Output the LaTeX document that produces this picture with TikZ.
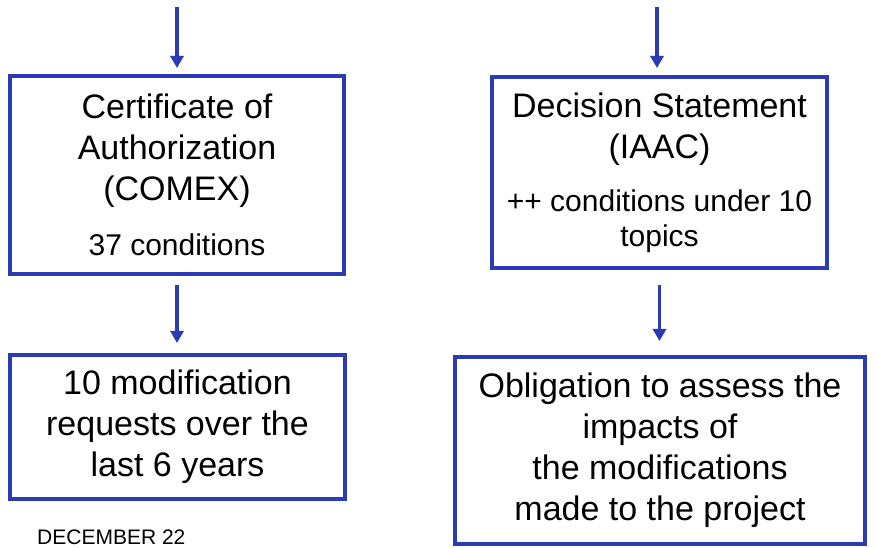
\documentclass[tikz,border=0pt]{standalone}
\usepackage{fontspec}
\setmainfont{Liberation Sans}
\usetikzlibrary{arrows.meta}
\definecolor{boxblue}{RGB}{42,59,181}

\begin{document}
\begin{tikzpicture}[x=1pt,y=1pt,
        box/.style={draw=boxblue,line width=4pt,align=center,inner sep=0pt,
            font=\fontsize{34}{41}\selectfont},
        link/.style={draw=boxblue,line width=3.5pt,-{Triangle[length=12pt,width=13pt]}}]
        \useasboundingbox (0,0) rectangle (877,548);
        % boxes
        \node[box,minimum width=334,minimum height=198] (cert) at (177,373)
            {Certificate of\\Authorization\\(COMEX)\\[14pt]\fontsize{30}{41}\selectfont 37 conditions};
        \node[box,minimum width=335,minimum height=191] (dec) at (659.5,375.5)
            {Decision Statement\\(IAAC)\\[12pt]\fontsize{30}{41}\selectfont ++ conditions under 10\\[-6pt]\fontsize{30}{41}\selectfont topics};
        \node[box,minimum width=335,minimum height=144] (req) at (177.5,121)
            {10 modification\\requests over the\\last 6 years};
        \node[box,minimum width=410,minimum height=187] (obl) at (660,97.5)
            {Obligation to assess the\\impacts of\\the modifications\\made to the project};
        % arrows
        \coordinate (inL) at (177,541);
        \coordinate (inR) at (657,541);
        \draw[link,shorten >=6pt] (inL) -- (inL |- cert.north);
        \draw[link,shorten >=7pt] (inR) -- (inR |- dec.north);
        \draw[link,shorten <=9pt,shorten >=10pt] (cert.south) -- (cert.south |- req.north);
        \draw[link,shorten <=15pt,shorten >=14pt] (dec.south) -- (dec.south |- obl.north);
        % text
        \node[anchor=base west,inner sep=0pt,font=\fontsize{21}{25}\selectfont] (date) at (37,3) {DECEMBER 22};
\end{tikzpicture}
\end{document}
